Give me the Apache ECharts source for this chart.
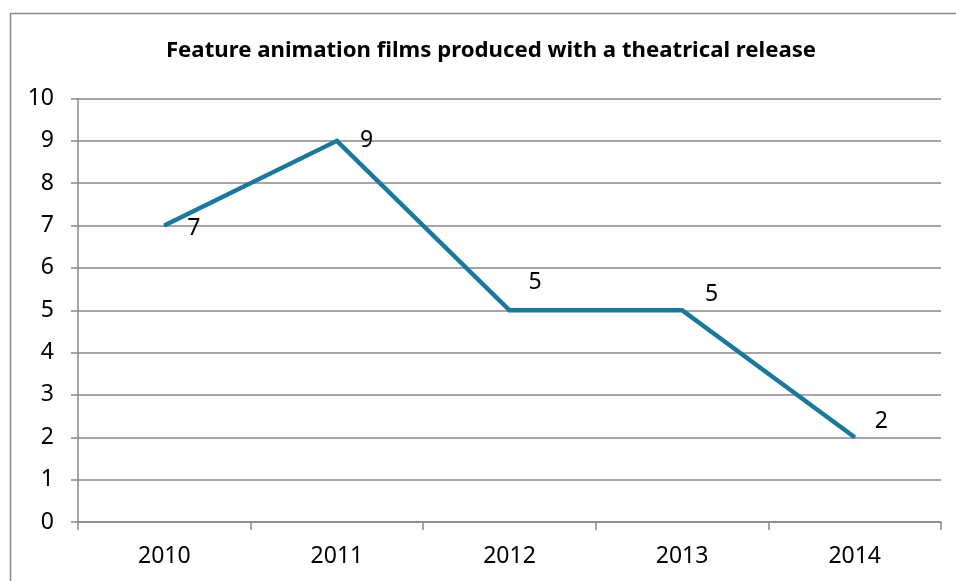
<!DOCTYPE html>
<html>
<head>
<meta charset="utf-8">
<script src="https://cdn.jsdelivr.net/npm/echarts@6/dist/echarts.min.js"></script>
<style>
  html, body { margin: 0; padding: 0; background: #ffffff; }
  #chart { width: 956px; height: 581px; }
</style>
</head>
<body>
<div id="chart"></div>
<script>
// ---- Data ----
const titleText = 'Feature animation films produced with a theatrical release';
const years = ['2010', '2011', '2012', '2013', '2014'];
const films = [7, 9, 5, 5, 2];
const yTicks = [0, 1, 2, 3, 4, 5, 6, 7, 8, 9, 10];

// ---- Label placement (style only) ----
const labelOffsets = [[23, 3], [23, 0], [19, -28], [23, -16], [20, -16]];

const chart = echarts.init(document.getElementById('chart'), null, { renderer: 'canvas' });
const FONT = '"Noto Sans", "Open Sans", sans-serif';
const GRAY = '#898989';

const seriesData = films.map((v, i) => ({
  value: v,
  label: {
    show: true,
    position: 'right',
    distance: 0,
    offset: [labelOffsets[i][0] - 1, labelOffsets[i][1]]
  }
}));

chart.setOption({
  animation: false,
  backgroundColor: '#ffffff',
  title: {
    text: titleText,
    left: 486,
    textAlign: 'center',
    top: 35,
    textStyle: { fontFamily: FONT, fontWeight: 'bold', fontSize: 22.2, color: '#000000' }
  },
  graphic: [{
    type: 'rect',
    shape: { x: 10.5, y: 13.5, width: 1000, height: 1000 },
    style: { fill: 'none', stroke: GRAY, lineWidth: 1.5 },
    silent: true,
    z: -1
  }],
  grid: { left: 78, right: 15, top: 98.5, bottom: 59, containLabel: false },
  xAxis: {
    type: 'category',
    data: years,
    boundaryGap: true,
    axisLine: { show: true, lineStyle: { color: GRAY, width: 1.5 } },
    axisTick: { show: true, length: 8, alignWithLabel: false, lineStyle: { color: GRAY, width: 1.5 } },
    axisLabel: { margin: 23, fontFamily: FONT, fontSize: 23, color: '#000000' },
    splitLine: { show: false }
  },
  yAxis: {
    type: 'value',
    min: yTicks[0],
    max: yTicks[yTicks.length - 1],
    interval: 1,
    axisLine: { show: true, lineStyle: { color: GRAY, width: 1.5 } },
    axisTick: { show: true, length: 7, lineStyle: { color: GRAY, width: 1.5 } },
    axisLabel: { margin: 24, fontFamily: FONT, fontSize: 23, color: '#000000' },
    splitLine: { show: true, lineStyle: { color: GRAY, width: 1.5 } }
  },
  series: [{
    type: 'line',
    data: seriesData,
    symbol: 'circle',
    symbolSize: 2,
    showSymbol: true,
    itemStyle: { color: '#18799c' },
    lineStyle: { color: '#18799c', width: 4.5, join: 'miter' },
    label: {
      show: true,
      fontFamily: FONT,
      fontSize: 23,
      color: '#000000',
      align: 'left',
      verticalAlign: 'middle'
    },
    z: 3
  }]
});
</script>
</body>
</html>
